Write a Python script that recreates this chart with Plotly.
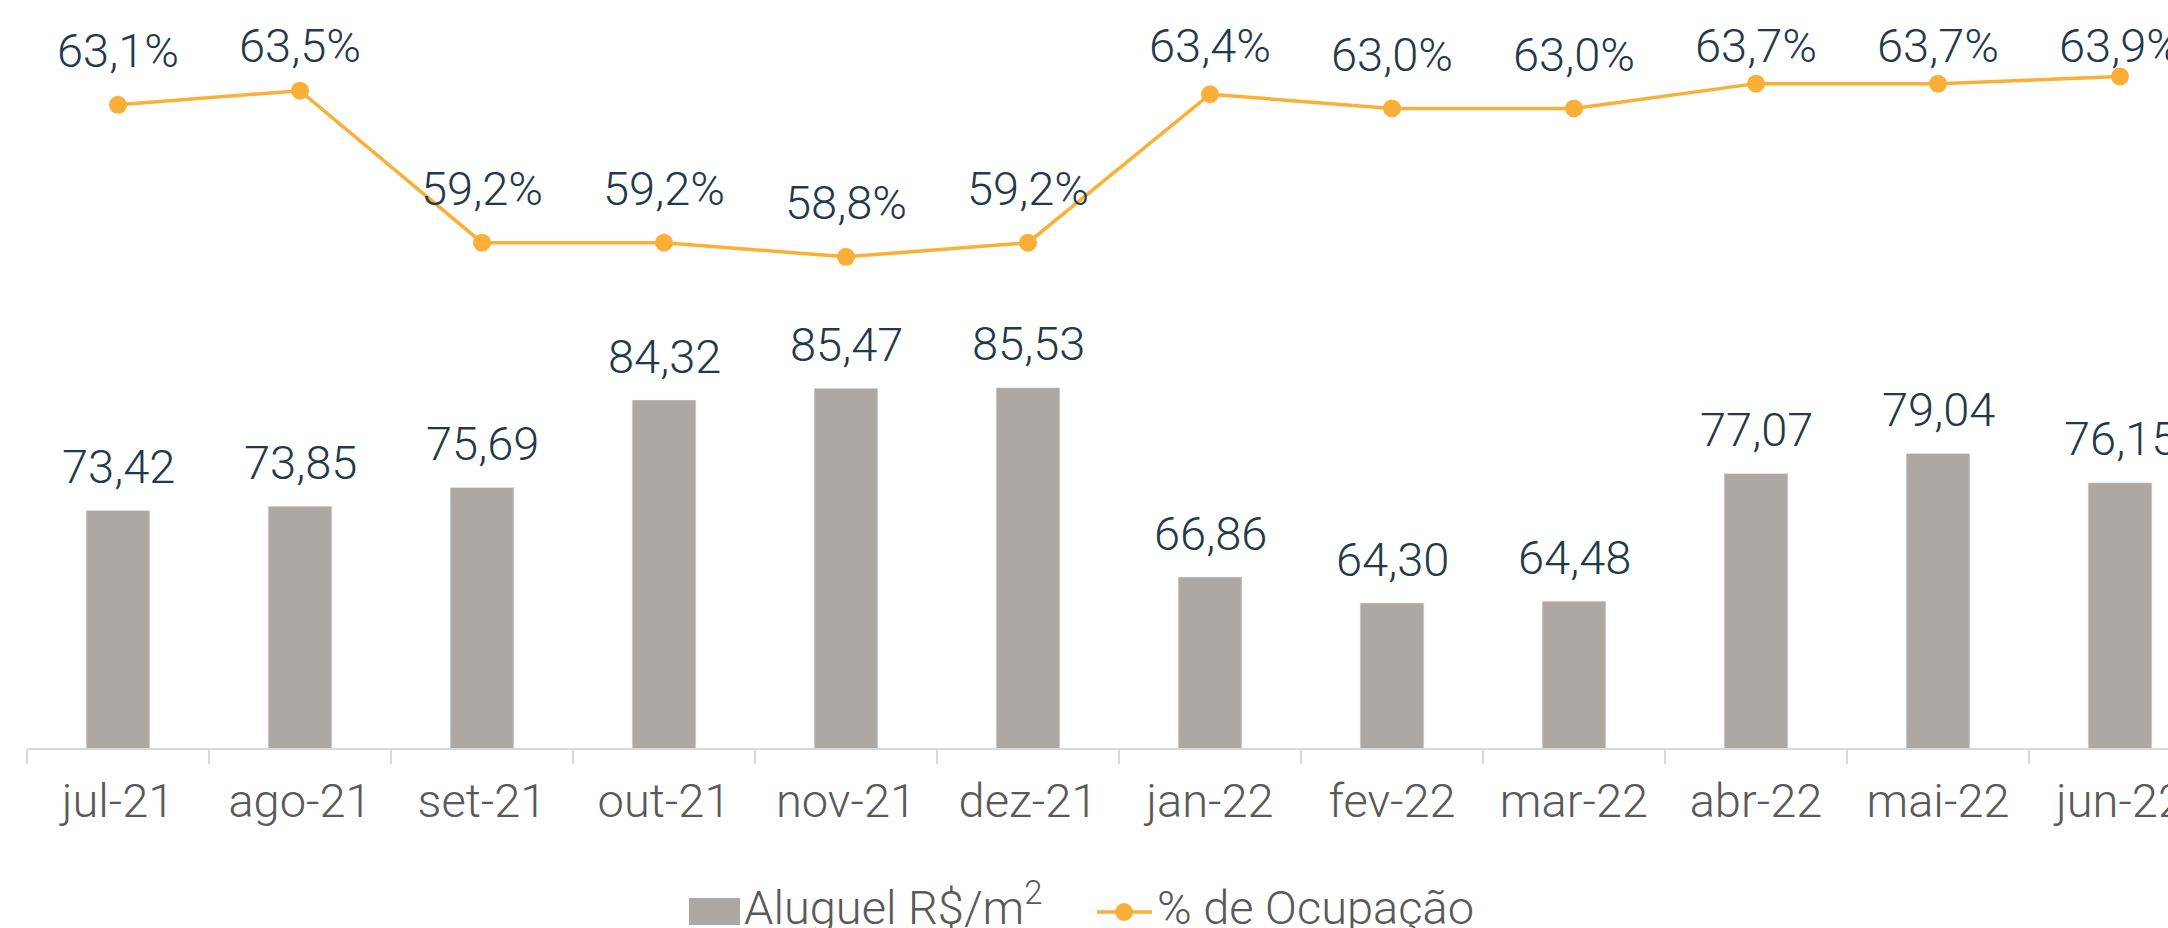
import plotly.graph_objects as go

months = ["jul-21", "ago-21", "set-21", "out-21", "nov-21", "dez-21",
          "jan-22", "fev-22", "mar-22", "abr-22", "mai-22", "jun-22"]
aluguel = [73.42, 73.85, 75.69, 84.32, 85.47, 85.53,
           66.86, 64.30, 64.48, 77.07, 79.04, 76.15]
ocupacao = [63.1, 63.5, 59.2, 59.2, 58.8, 59.2,
            63.4, 63.0, 63.0, 63.7, 63.7, 63.9]
bar_name = "Aluguel R$/m<sup>2</sup>"
line_name = "% de Ocupação"

W, H = 2168, 928
ML = 27
BASE = 748                # x-axis line position
MB = H - BASE
plot_h = BASE
plot_w = W - ML
Y1 = [50, 50 + plot_h / 10.14]
Y2 = [44.906, 63.5 + 90.7 / 35.35]
px_per_y2 = plot_h / (Y2[1] - Y2[0])
px_per_y1 = plot_h / (Y1[1] - Y1[0])

BAR_COLOR = "#ADA8A4"
LINE_COLOR = "#FBAF36"
LABEL_COLOR = "#1F3A4C"
TICK_COLOR = "#595959"
FONT = "Roboto"
WEIGHT = 300
FS = 47


def px2x(px):
    return (px - ML) / plot_w


def py2y(py):
    return (plot_h - py) / plot_h


fig = go.Figure()
fig.add_trace(go.Bar(
    x=months, y=aluguel, name=bar_name,
    marker=dict(color=BAR_COLOR), yaxis="y", hoverinfo="skip",
))
fig.add_trace(go.Scatter(
    x=months, y=ocupacao, name=line_name, mode="lines+markers",
    line=dict(color=LINE_COLOR, width=3.5),
    marker=dict(color=LINE_COLOR, size=18), yaxis="y2", hoverinfo="skip",
    cliponaxis=False,
))

lab_font = dict(family=FONT, size=FS, color=LABEL_COLOR, weight=WEIGHT)
annotations = []
for m, v in zip(months, aluguel):
    annotations.append(dict(
        x=m, y=v + 44 / px_per_y1, xref="x", yref="y",
        text=f"{v:.2f}".replace(".", ","), showarrow=False,
        yanchor="middle", xanchor="center", font=lab_font,
    ))
for m, v in zip(months, ocupacao):
    ly = min(v + 54 / px_per_y2, Y2[1] - 45 / px_per_y2)
    annotations.append(dict(
        x=m, y=ly, xref="x", yref="y2",
        text=f"{v:.1f}".replace(".", ",") + "%", showarrow=False,
        yanchor="middle", xanchor="center", font=lab_font,
    ))

# custom legend (below the plot)
leg_font = dict(family=FONT, size=47, color=TICK_COLOR, weight=WEIGHT)
shapes = [
    dict(type="rect", xref="paper", yref="paper",
         x0=px2x(689), x1=px2x(740), y0=py2y(925), y1=py2y(898),
         fillcolor=BAR_COLOR, line=dict(width=0)),
    dict(type="line", xref="paper", yref="paper",
         x0=px2x(1097), x1=px2x(1152), y0=py2y(912), y1=py2y(912),
         line=dict(color=LINE_COLOR, width=3.5)),
    dict(type="circle", xref="paper", yref="paper",
         x0=px2x(1115), x1=px2x(1133), y0=py2y(921), y1=py2y(903),
         fillcolor=LINE_COLOR, line=dict(width=0)),
]
annotations.append(dict(
    x=px2x(742), y=py2y(937), xref="paper", yref="paper",
    text=bar_name, showarrow=False, xanchor="left", yanchor="bottom",
    font=leg_font,
))
annotations.append(dict(
    x=px2x(1155), y=py2y(937), xref="paper", yref="paper",
    text=line_name, showarrow=False, xanchor="left", yanchor="bottom",
    font=leg_font,
))

fig.update_layout(
    width=W, height=H,
    margin=dict(l=ML, r=0, t=0, b=MB),
    paper_bgcolor="white", plot_bgcolor="white",
    bargap=0.65,
    showlegend=False,
    hovermode=False,
    xaxis=dict(
        type="category", range=[-0.5, -0.5 + plot_w / 182.0], automargin=False,
        showline=True, linecolor="#D9D9D9", linewidth=2,
        ticks="outside", tickson="boundaries", ticklen=14, tickcolor="#D9D9D9", tickwidth=2,
        tickfont=dict(family=FONT, size=FS, color=TICK_COLOR, weight=WEIGHT),
        ticklabelstandoff=11,
        showgrid=False, zeroline=False,
    ),
    yaxis=dict(range=Y1, visible=False, showgrid=False, zeroline=False, automargin=False),
    yaxis2=dict(range=Y2, overlaying="y", side="right", visible=False,
                showgrid=False, zeroline=False, automargin=False),
    annotations=annotations,
    shapes=shapes,
)

fig.write_html(
    "out.html",
    config={"displayModeBar": False},
    post_script="document.body.style.margin='0';document.body.style.overflow='hidden';",
)
